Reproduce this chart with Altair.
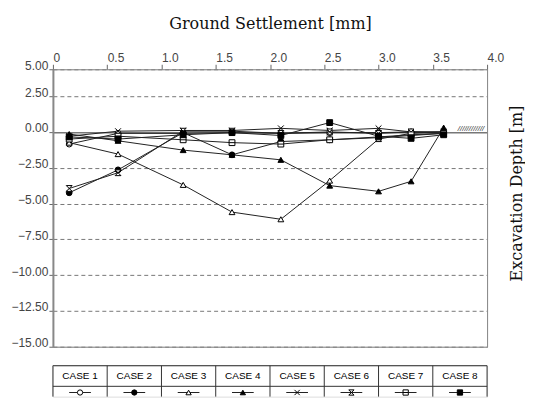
import altair as alt
import pandas as pd

# ---- data ----
cases = ["CASE 1", "CASE 2", "CASE 3", "CASE 4", "CASE 5", "CASE 6", "CASE 7", "CASE 8"]
stage_x = [0.15, 0.6, 1.2, 1.65, 2.1, 2.55, 3.0, 3.3, 3.6]

case1 = [-0.85, -0.10, -0.10, -0.05, -0.10, -0.05, -0.05, 0.00, 0.00]
case2 = [-4.25, -2.65, -0.05, -1.60, -0.67, -0.55, -0.40, -0.25, -0.10]
case3 = [-0.75, -1.55, -3.70, -5.60, -6.10, -3.40, -0.50, -0.10, 0.00]
case4 = [-0.15, -0.62, -1.27, -1.60, -1.95, -3.75, -4.15, -3.45, 0.30]
case5 = [-0.30, 0.05, 0.10, 0.10, 0.25, 0.10, 0.25, 0.00, 0.00]
case6 = [-3.95, -2.85, 0.05, 0.05, -0.10, 0.00, -0.10, 0.00, -0.10]
case7 = [-0.50, -0.30, -0.55, -0.75, -0.85, -0.55, -0.35, -0.20, -0.10]
case8 = [-0.35, -0.50, -0.20, -0.05, -0.25, 0.65, -0.30, -0.45, -0.20]

x_ticks = [0, 0.5, 1.0, 1.5, 2.0, 2.5, 3.0, 3.5, 4.0]
y_top = 4.375          # the top edge of the plot, labelled 5.00 in the reference
y_ticks = [-15, -12.5, -10, -7.5, -5, -2.5, 0, 2.5, y_top]

X_PATH = "M-1,-1L1,1M-1,1L1,-1"
HOURGLASS = "M-1,-1L1,-1L-1,1L1,1Z"
SQ_LINE = "M-1,-1H1V1H-1ZM-1,0H1"
shapes = ["circle", "circle", "triangle-up", "triangle-up", X_PATH, HOURGLASS, SQ_LINE, "square"]
fills = ["white", "black", "white", "black", "white", "white", "white", "black"]

series = [case1, case2, case3, case4, case5, case6, case7, case8]
rows = []
for name, vals in zip(cases, series):
    for xv, yv in zip(stage_x, vals):
        rows.append({"case": name, "x": xv, "y": yv})
df = pd.DataFrame(rows)

SANS = "Liberation Sans"
SERIF = "DejaVu Serif"

xscale = alt.Scale(domain=[0, 4], nice=False, zero=False)
yscale = alt.Scale(domain=[-15, y_top], nice=False, zero=False)

x_axis = alt.Axis(
    orient="top", values=x_ticks,
    labelExpr="datum.value == 0 ? '0' : format(datum.value, '.1f')",
    labelAlign="left", labelBaseline="bottom", labelPadding=0, labelFlush=False,
    labelOverlap=False, labelFont=SANS, labelFontSize=12, labelColor="#444",
    tickSize=5, tickColor="#666", domainColor="#888", grid=False,
    title="Ground Settlement [mm]", titleFont=SERIF, titleFontSize=16,
    titleFontWeight="normal", titleColor="#111", titlePadding=20,
)
y_axis = alt.Axis(
    orient="left", values=y_ticks,
    labelExpr="datum.value > 4 ? '5.00' : format(datum.value, '.2f')",
    labelBaseline="alphabetic", labelPadding=1, labelFont=SANS, labelFontSize=12,
    labelColor="#444", labelOverlap=False, labelFlush=False,
    tickSize=4, tickColor="#666", domainColor="#888", domainWidth=2,
    grid=True, gridColor="#777",
    gridDash={"condition": {"test": "datum.value === 0", "value": []}, "value": [4, 3]},
    gridWidth={"condition": {"test": "datum.value === 0", "value": 1.5}, "value": 1},
    title=None,
)

base = alt.Chart(df).encode(
    x=alt.X("x:Q", scale=xscale, axis=x_axis),
    y=alt.Y("y:Q", scale=yscale, axis=y_axis),
)
lines = base.mark_line(color="#222", strokeWidth=1).encode(detail="case:N", order="x:Q")
points = base.mark_point(filled=True, stroke="black", strokeWidth=1, opacity=1, size=34).encode(
    shape=alt.Shape("case:N", scale=alt.Scale(domain=cases, range=shapes), legend=None),
    fill=alt.Fill("case:N", scale=alt.Scale(domain=cases, range=fills), legend=None),
)

hatch_df = pd.DataFrame({"x": [3.73], "y": [0.0], "t": ["////////////"]})
hatch = alt.Chart(hatch_df).mark_text(
    align="left", baseline="bottom", fontSize=8, font=SANS, fontStyle="italic", color="#333", dy=1
).encode(
    x=alt.X("x:Q", scale=xscale, axis=x_axis),
    y=alt.Y("y:Q", scale=yscale, axis=y_axis),
    text="t:N",
)

# right-hand title plus the right and bottom edges of the frame
right_title = alt.Chart(df).mark_point(opacity=0).encode(
    x=alt.X("x:Q", scale=xscale, axis=alt.Axis(
        orient="bottom", labels=False, ticks=False, grid=False, domain=True,
        domainColor="#888", title=None,
    )),
    y=alt.Y("y:Q", scale=yscale, axis=alt.Axis(
        orient="right", labels=False, ticks=False, domain=True, domainColor="#888", grid=False,
        title="Excavation Depth [m]", titleFont=SERIF, titleFontSize=16,
        titleFontWeight="normal", titleColor="#111", titleAngle=270, titlePadding=37,
        titleY=124,
    )),
)

plot_layers = alt.layer(lines, points, hatch)
main = alt.layer(plot_layers, right_title).resolve_axis(
    x="independent", y="independent"
).properties(width=435, height=278)

# ---- legend table (its lower edge runs off the page, as in the reference) ----
leg = pd.DataFrame({"case": cases, "i": list(range(len(cases)))})
dividers = pd.DataFrame({"k": list(range(len(cases) + 1))})
lx = alt.Scale(domain=[0, 4], nice=False, zero=False)
ly = alt.Scale(domain=[1.5, 0], nice=False, zero=False)

vlines = alt.Chart(dividers).transform_calculate(
    xk="datum.k * 0.5", r0="0", r1="1.5"
).mark_rule(color="#333", strokeWidth=1).encode(
    x=alt.X("xk:Q", scale=lx, axis=None), y=alt.Y("r0:Q", scale=ly, axis=None), y2="r1:Q"
)
hrows = pd.DataFrame({"r": [0.0, 1.0]})
hlines = alt.Chart(hrows).transform_calculate(xa="0", xb="4").mark_rule(
    color="#333", strokeWidth=1
).encode(x=alt.X("xa:Q", scale=lx, axis=None), x2="xb:Q", y=alt.Y("r:Q", scale=ly, axis=None))

leg_base = alt.Chart(leg).transform_calculate(
    xc="datum.i * 0.5 + 0.25", xa="datum.i * 0.5 + 0.15", xb="datum.i * 0.5 + 0.35",
)
leg_text = leg_base.transform_calculate(r="0.5").mark_text(
    font=SANS, fontSize=10, color="#000", baseline="middle"
).encode(x=alt.X("xc:Q", scale=lx, axis=None), y=alt.Y("r:Q", scale=ly, axis=None), text="case:N")
leg_line = leg_base.transform_calculate(r="1.3").mark_rule(color="#222", strokeWidth=1).encode(
    x=alt.X("xa:Q", scale=lx, axis=None), x2="xb:Q", y=alt.Y("r:Q", scale=ly, axis=None))
leg_pt = leg_base.transform_calculate(r="1.3").mark_point(
    filled=True, stroke="black", strokeWidth=1, opacity=1, size=28
).encode(
    x=alt.X("xc:Q", scale=lx, axis=None), y=alt.Y("r:Q", scale=ly, axis=None),
    shape=alt.Shape("case:N", scale=alt.Scale(domain=cases, range=shapes), legend=None),
    fill=alt.Fill("case:N", scale=alt.Scale(domain=cases, range=fills), legend=None),
)
legend_tbl = alt.layer(vlines, hlines, leg_text, leg_line, leg_pt).properties(width=435, height=31)

chart = alt.vconcat(main, legend_tbl, spacing=15).resolve_scale(
    shape="independent", fill="independent"
).configure_view(stroke="transparent").configure(
    background="white", padding={"left": 2, "top": 6, "right": 0, "bottom": 0}
)

chart.save("out.html", embed_options={"renderer": "svg", "actions": False})
